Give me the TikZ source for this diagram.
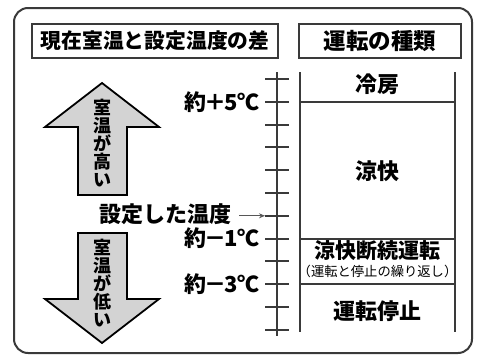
\documentclass[tikz,border=0pt]{standalone}
\usepackage{fontspec}
\setmainfont{Noto Sans CJK JP}
\usetikzlibrary{arrows.meta}
\definecolor{ln}{HTML}{3A3A3A}
\definecolor{arrfill}{HTML}{D3D3D3}
\tikzset{
  frame/.style={draw=ln,line width=2pt,rounded corners=14pt},
  hdr/.style={draw=ln,line width=1.6pt,minimum height=34pt,inner sep=0pt},
  lbl/.style={font=\fontsize{22}{24}\selectfont\bfseries,inner sep=0pt},
  kind/.style={font=\fontsize{22}{24}\selectfont\bfseries,inner sep=0pt},
  sub/.style={font=\fontsize{13.3}{15}\selectfont,inner sep=0pt},
  vtext/.style={font=\fontsize{18}{18}\selectfont\bfseries,align=center,inner sep=0pt},
  bigarrow/.style={draw=black,line width=1.8pt,fill=arrfill,line join=miter},
  scaleline/.style={draw=ln,line width=2pt},
  col/.style={draw=ln,line width=1.8pt},
}
\begin{document}
\begin{tikzpicture}[x=1pt,y=-1pt]
\useasboundingbox (0,0) rectangle (479,356);
% outer frame
\draw[frame] (14,8) rectangle (472,353);
% headers
\node[hdr,minimum width=246pt,font=\fontsize{20.8}{22}\selectfont\bfseries] (h1) at (155,41) {現在室温と設定温度の差};
\node[hdr,minimum width=162pt,font=\fontsize{22.5}{24}\selectfont\bfseries] (h2) at (380,41) {運転の種類};
% scale
\draw[scaleline] (277,72) -- (277,336);
\foreach \i in {0,...,11}{
  \draw[scaleline] (265,{79+22.8*\i}) -- (289,{79+22.8*\i});
}
\coordinate (t5) at (265,101.8);
\coordinate (t0) at (265,215.8);
\coordinate (tm1) at (265,238.6);
\coordinate (tm3) at (265,284.2);
\node[lbl,anchor=east] (l5) at ([xshift=-5pt]t5) {約\kern-2pt＋\kern-2pt5℃};
\node[lbl,anchor=east] (lm1) at ([xshift=-5pt]tm1) {約\kern-2pt－\kern-2pt1℃};
\node[lbl,anchor=east] (lm3) at ([xshift=-5pt]tm3) {約\kern-2pt－\kern-2pt3℃};
\node[lbl,anchor=east] (l0) at (232,214) {設定した温度};
\coordinate (a0) at (239,215.8);
\draw[ln!85,line width=1.3pt,-{Stealth[length=6pt,width=5pt]}] (a0) -- (t0);
% right column
\draw[col] (300,72) -- (300,332);
\draw[col] (455,72) -- (455,332);
\draw[col] (300,101.8) -- (455,101.8);
\draw[col] (300,238.6) -- (455,238.6);
\draw[col] (300,284.2) -- (455,284.2);
\node[kind] (k1) at (377.5,84) {冷房};
\node[kind] (k2) at (377.5,171) {涼快};
\node[kind,font=\fontsize{21}{24}\selectfont\bfseries] (k3) at (377.5,251) {涼快断続運転};
\node[sub] (k3s) at (377.5,271.5) {（運転と停止の繰り返し）};
\node[kind] (k4) at (377.5,311) {運転停止};
% up arrow
\draw[bigarrow] (102,83) -- (159,127) -- (127,127) -- (127,195) -- (78,195) -- (78,127) -- (45,127) -- cycle;
\node[vtext] (up) at (102,143.5) {室\\温\\が\\高\\い};
% down arrow
\draw[bigarrow] (78,233) -- (127,233) -- (127,299) -- (159,299) -- (102,343) -- (45,299) -- (78,299) -- cycle;
\node[vtext] (dn) at (102,283) {室\\温\\が\\低\\い};
\end{tikzpicture}
\end{document}
